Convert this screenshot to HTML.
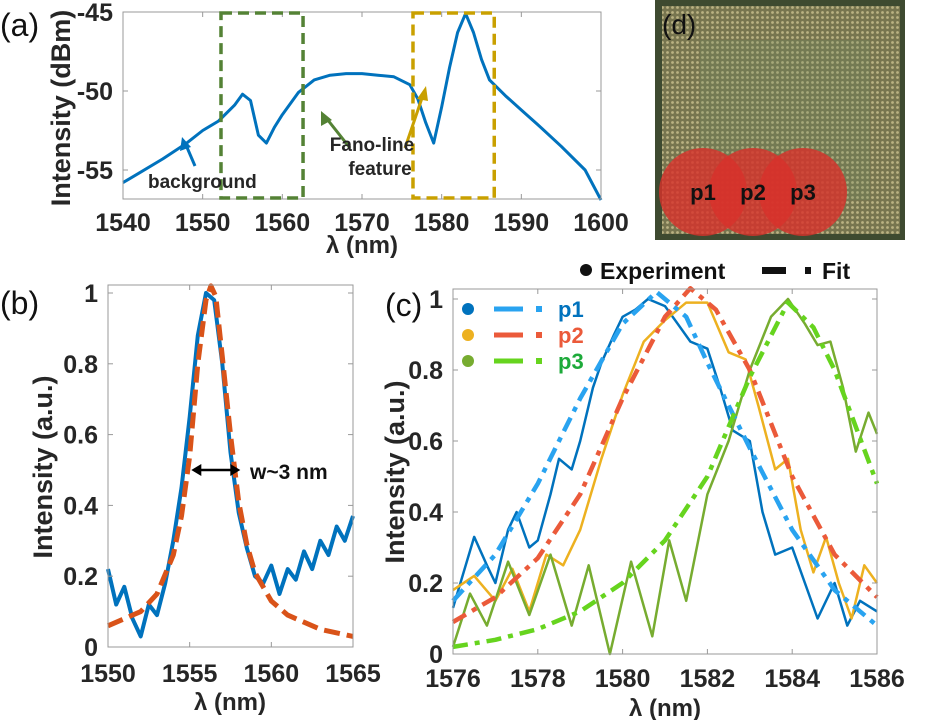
<!DOCTYPE html>
<html><head><meta charset="utf-8"><style>
body{margin:0;background:#fff;width:934px;height:720px;overflow:hidden}
svg{font-family:"Liberation Sans",Arial,sans-serif}
</style></head><body>
<svg id="fig" width="934" height="720" viewBox="0 0 934 720" xmlns="http://www.w3.org/2000/svg">
<g>
<defs><pattern id="dots" width="5" height="5" patternUnits="userSpaceOnUse"><rect width="5" height="5" fill="#7d7a52"/><circle cx="2.5" cy="2.5" r="1.4" fill="#c8bd8c"/></pattern></defs>
<rect x="655" y="0" width="250" height="240" fill="#3e4a30"/>
<rect x="662" y="6" width="238" height="228" fill="url(#dots)" opacity="0.9"/>
<rect x="700" y="40" width="170" height="160" fill="#6a8a60" opacity="0.25"/>
<circle cx="703" cy="192" r="44" fill="#d8312a" opacity="0.8"/>
<circle cx="753" cy="192" r="44" fill="#d8312a" opacity="0.8"/>
<circle cx="803" cy="192" r="44" fill="#d8312a" opacity="0.8"/>
<text x="703" y="200" font-size="22" font-weight="bold" text-anchor="middle" fill="#111">p1</text>
<text x="753" y="200" font-size="22" font-weight="bold" text-anchor="middle" fill="#111">p2</text>
<text x="803" y="200" font-size="22" font-weight="bold" text-anchor="middle" fill="#111">p3</text>
<text x="662" y="34" font-size="28" fill="#111">(d)</text>
</g>
</svg>
<script>
// Panel (a) data
const aX=[1540,1542,1545,1548,1550,1552,1554,1555,1556,1557,1558,1559,1560,1562,1564,1566,1568,1570,1572,1574,1576,1577,1578,1579,1580,1581,1582,1583,1584,1585,1586,1588,1590,1592,1595,1598,1600];
const aY=[-55.8,-55.2,-54.3,-53.3,-52.5,-51.9,-50.9,-50.2,-50.6,-52.8,-53.3,-52.3,-51.5,-50.1,-49.3,-49.0,-48.9,-48.9,-49.0,-49.1,-49.6,-50.5,-52.0,-53.3,-51.0,-48.5,-46.3,-45.1,-46.3,-48.0,-49.3,-50.3,-51.2,-52.1,-53.5,-55.0,-56.9];
const aXT=[1540,1550,1560,1570,1580,1590,1600];
const aYT=[-45,-50,-55];
// Panel (b) data
const bX=[1550,1550.5,1551,1551.5,1552,1552.5,1553,1553.5,1554,1554.5,1555,1555.5,1556,1556.5,1557,1557.5,1558,1558.5,1559,1559.5,1560,1560.5,1561,1561.5,1562,1562.5,1563,1563.5,1564,1564.5,1565];
const bY=[0.22,0.12,0.17,0.08,0.03,0.12,0.09,0.18,0.3,0.45,0.65,0.88,1.0,0.98,0.8,0.55,0.38,0.28,0.2,0.18,0.23,0.15,0.22,0.19,0.27,0.22,0.3,0.26,0.34,0.3,0.37];
const bFX=[1550,1551,1552,1553,1554,1554.5,1555,1555.5,1556,1556.3,1556.6,1557,1557.5,1558,1558.5,1559,1560,1561,1562,1563,1565];
const bFY=[0.06,0.08,0.1,0.15,0.26,0.37,0.54,0.8,0.98,1.02,0.99,0.82,0.6,0.41,0.29,0.21,0.13,0.09,0.07,0.05,0.03];
const bXT=[1550,1555,1560,1565];
const bYT=[0,0.2,0.4,0.6,0.8,1];
// Panel (c) data
const cYT=[0,0.2,0.4,0.6,0.8,1];
const cXT=[1576,1578,1580,1582,1584,1586];
const p1X=[1576,1576.3,1576.5,1576.8,1577,1577.3,1577.5,1577.8,1578,1578.3,1578.5,1578.8,1579,1579.3,1579.5,1579.8,1580,1580.3,1580.6,1581,1581.3,1581.6,1582,1582.3,1582.6,1583,1583.3,1583.6,1584,1584.3,1584.6,1585,1585.3,1585.6,1586];
const p1Y=[0.13,0.25,0.33,0.25,0.2,0.35,0.4,0.3,0.32,0.45,0.55,0.52,0.6,0.75,0.82,0.9,0.95,0.97,1.0,0.98,0.93,0.88,0.86,0.75,0.63,0.6,0.4,0.28,0.3,0.2,0.1,0.2,0.08,0.15,0.12];
const p1FX=[1576,1577,1578,1579,1580,1580.8,1581.5,1582,1583,1584,1585,1586];
const p1FY=[0.15,0.28,0.48,0.72,0.93,1.02,0.95,0.82,0.58,0.35,0.18,0.08];
const p2X=[1576,1576.5,1577,1577.4,1577.8,1578.2,1578.6,1579,1579.5,1580,1580.5,1581,1581.5,1582,1582.5,1582.9,1583.2,1583.6,1583.9,1584.2,1584.5,1584.8,1585.1,1585.4,1585.7,1586];
const p2Y=[0.18,0.22,0.15,0.24,0.12,0.28,0.25,0.35,0.55,0.73,0.88,0.94,0.99,0.99,0.85,0.83,0.7,0.52,0.55,0.35,0.23,0.33,0.2,0.1,0.25,0.2];
const p2FX=[1576,1577,1578,1579,1580,1581,1581.6,1582.2,1583,1584,1585,1586];
const p2FY=[0.09,0.16,0.27,0.45,0.72,0.95,1.03,0.97,0.8,0.5,0.28,0.16];
const p3X=[1576,1576.4,1576.8,1577.3,1577.8,1578.3,1578.8,1579.2,1579.7,1580.2,1580.7,1581.1,1581.5,1582,1582.5,1583,1583.5,1583.9,1584.3,1584.6,1584.9,1585.2,1585.5,1585.8,1586];
const p3Y=[0.02,0.17,0.08,0.26,0.11,0.28,0.08,0.25,0.0,0.26,0.05,0.32,0.15,0.45,0.6,0.8,0.95,1.0,0.93,0.87,0.88,0.75,0.57,0.68,0.62];
const p3FX=[1576,1577,1578,1579,1580,1581,1582,1583,1583.9,1584.5,1585,1586];
const p3FY=[0.02,0.04,0.07,0.12,0.2,0.32,0.5,0.78,0.99,0.92,0.8,0.48];

const NS="http://www.w3.org/2000/svg";
const svg=document.getElementById('fig');
function mk(tag,attrs,parent,txt){const e=document.createElementNS(NS,tag);for(const k in attrs)e.setAttribute(k,attrs[k]);if(txt!==undefined)e.textContent=txt;(parent||svg).appendChild(e);return e;}
function scale(d0,d1,r0,r1){return v=>r0+(v-d0)/(d1-d0)*(r1-r0);}
function axes(g,L,T,R,B,xs,ys,xt,yt,fmtY,xlY){
  const box=mk('rect',{x:L,y:T,width:R-L,height:B-T,fill:'none',stroke:'#999','stroke-width':1},g);
  
  xt.forEach(v=>{const x=xs(v);
    mk('line',{x1:x,y1:B,x2:x,y2:B-5,stroke:'#999'},g);mk('line',{x1:x,y1:T,x2:x,y2:T+5,stroke:'#999'},g);
    const t=mk('text',{x:x,y:xlY,'font-size':25,'font-weight':'bold','text-anchor':'middle',fill:'#262626'},g,String(v));
    });
  yt.forEach(v=>{const y=ys(v);
    mk('line',{x1:L,y1:y,x2:L+5,y2:y,stroke:'#999'},g);mk('line',{x1:R,y1:y,x2:R-5,y2:y,stroke:'#999'},g);
    const t=mk('text',{x:L-10,y:y+9,'font-size':25,'font-weight':'bold','text-anchor':'end',fill:'#262626'},g,fmtY(v));
    });
}
function line(g,X,Y,xs,ys,attrs,name){const d=X.map((x,i)=>(i?'L':'M')+xs(x).toFixed(1)+' '+ys(Y[i]).toFixed(1)).join('');
  const p=mk('path',Object.assign({d:d,fill:'none','stroke-linejoin':'round'},attrs),g);
  return p;}

// ---- Panel a
const ga=mk('g',{});
const axs=scale(1540,1600,123,601), ays=scale(-45,-55,12,170);
line(ga,aX,aY,axs,ays,{stroke:'#0072BD','stroke-width':3},'spectrum-line');
axes(ga,123,12,601,199,axs,ays,aXT,aYT,v=>String(v),231);
const gbox=mk('rect',{x:axs(1552.3),y:13,width:axs(1562.6)-axs(1552.3),height:185,fill:'none',stroke:'#548235','stroke-width':3.5,'stroke-dasharray':'11 6'},ga);

const ybox=mk('rect',{x:axs(1576.4),y:13,width:axs(1586.6)-axs(1576.4),height:185,fill:'none',stroke:'#C9A000','stroke-width':3.5,'stroke-dasharray':'11 6'},ga);

mk('line',{x1:195,y1:166,x2:186,y2:145,stroke:'#0072BD','stroke-width':3},ga);
mk('polygon',{points:'182,137 180,151 191,147',fill:'#0072BD'},ga);
mk('line',{x1:350,y1:148,x2:327,y2:119,stroke:'#548235','stroke-width':3},ga);
mk('polygon',{points:'321,111 321,126 332,120',fill:'#548235'},ga);
mk('line',{x1:405,y1:148,x2:422,y2:98,stroke:'#C9A000','stroke-width':3},ga);
mk('polygon',{points:'426,86 417,99 428,101',fill:'#C9A000'},ga);
const t1=mk('text',{x:148,y:188,'font-size':19,'font-weight':'bold',fill:'#262626'},ga,'background');
const t2=mk('text',{x:372,y:151,'font-size':19,'font-weight':'bold','text-anchor':'middle',fill:'#262626'},ga,'Fano-line');
mk('text',{x:380,y:175,'font-size':19,'font-weight':'bold','text-anchor':'middle',fill:'#262626'},ga,'feature');
const at=mk('text',{x:362,y:253,'font-size':24,'font-weight':'bold','text-anchor':'middle',fill:'#262626'},ga,'λ (nm)');
const ay=mk('text',{x:0,y:0,'font-size':27,'font-weight':'bold','text-anchor':'middle',fill:'#262626',transform:'translate(70,108) rotate(-90)'},ga,'Intensity (dBm)');
mk('text',{x:0,y:36,'font-size':32,fill:'#111'},ga,'(a)');

// ---- Panel b
const gb=mk('g',{});
const bxs=scale(1550,1565,108,353), bys=scale(0,1,647,293);
line(gb,bX,bY,bxs,bys,{stroke:'#0072BD','stroke-width':4},'experiment-line');
line(gb,bFX,bFY,bxs,bys,{stroke:'#D95319','stroke-width':5,'stroke-dasharray':'16 7'},'fit-line');
axes(gb,108,285,353,647,bxs,bys,bXT,bYT,v=>String(v),682);
const ar=mk('line',{x1:bxs(1555.3),y1:bys(0.5),x2:bxs(1557.9),y2:bys(0.5),stroke:'#000','stroke-width':2.5},gb);
mk('polygon',{points:`${bxs(1555.1)},${bys(0.5)} ${bxs(1555.1)+10},${bys(0.5)-6} ${bxs(1555.1)+10},${bys(0.5)+6}`,fill:'#000'},gb);
mk('polygon',{points:`${bxs(1558.1)},${bys(0.5)} ${bxs(1558.1)-10},${bys(0.5)-6} ${bxs(1558.1)-10},${bys(0.5)+6}`,fill:'#000'},gb);
mk('text',{x:250,y:479,'font-size':21,'font-weight':'bold',fill:'#111'},gb,'w~3 nm');
mk('text',{x:230,y:710,'font-size':24,'font-weight':'bold','text-anchor':'middle',fill:'#262626'},gb,'λ (nm)');
mk('text',{x:0,y:0,'font-size':27,'font-weight':'bold','text-anchor':'middle',fill:'#262626',transform:'translate(52,467) rotate(-90)'},gb,'Intensity (a.u.)');
mk('text',{x:0,y:314,'font-size':32,fill:'#111'},gb,'(b)');

// ---- Panel c
const gc=mk('g',{});
const cxs=scale(1576,1586,453,877), cys=scale(0,1,654,299);
const fitDash={'stroke-width':4.5,'stroke-dasharray':'15 7 5 7'};
line(gc,p1X,p1Y,cxs,cys,{stroke:'#0072BD','stroke-width':2.5},'p1-experiment');
line(gc,p2X,p2Y,cxs,cys,{stroke:'#EDB120','stroke-width':2.5},'p2-experiment');
line(gc,p3X,p3Y,cxs,cys,{stroke:'#77AC30','stroke-width':2.5},'p3-experiment');
line(gc,p1FX,p1FY,cxs,cys,Object.assign({stroke:'#29A3F0'},fitDash),'p1-fit');
line(gc,p2FX,p2FY,cxs,cys,Object.assign({stroke:'#EB5A3A'},fitDash),'p2-fit');
line(gc,p3FX,p3FY,cxs,cys,Object.assign({stroke:'#66D41E'},fitDash),'p3-fit');
axes(gc,453,289,877,654,cxs,cys,cXT,cYT,v=>String(+v.toFixed(1)),687);
const leg=[['p1','#0072BD','#29A3F0','#0072BD'],['p2','#EDB120','#EB5A3A','#EB5A3A'],['p3','#77AC30','#66D41E','#1DAA3A']];
leg.forEach((l,i)=>{const y=309+i*26;
  const c=mk('circle',{cx:468,cy:y,r:6,fill:l[1]},gc);
  mk('line',{x1:494,y1:y,x2:523,y2:y,stroke:l[2],'stroke-width':5},gc);
  mk('rect',{x:536,y:y-3,width:6,height:6,fill:l[2]},gc);
  const t=mk('text',{x:558,y:y+8,'font-size':22,'font-weight':'bold',fill:l[3]},gc,l[0]);});
mk('circle',{cx:586,cy:270,r:6,fill:'#111'},gc);
mk('text',{x:600,y:279,'font-size':23,'font-weight':'bold',fill:'#111'},gc,'Experiment');
mk('rect',{x:762,y:267,width:24,height:7,fill:'#111'},gc);
mk('rect',{x:805,y:267,width:6,height:7,fill:'#111'},gc);
mk('text',{x:822,y:279,'font-size':23,'font-weight':'bold',fill:'#111'},gc,'Fit');
mk('text',{x:665,y:716,'font-size':24,'font-weight':'bold','text-anchor':'middle',fill:'#262626'},gc,'λ (nm)');
mk('text',{x:0,y:0,'font-size':27,'font-weight':'bold','text-anchor':'middle',fill:'#262626',transform:'translate(404,472) rotate(-90)'},gc,'Intensity (a.u.)');
mk('text',{x:385,y:316,'font-size':32,fill:'#111'},gc,'(c)');
</script>
</body></html>
